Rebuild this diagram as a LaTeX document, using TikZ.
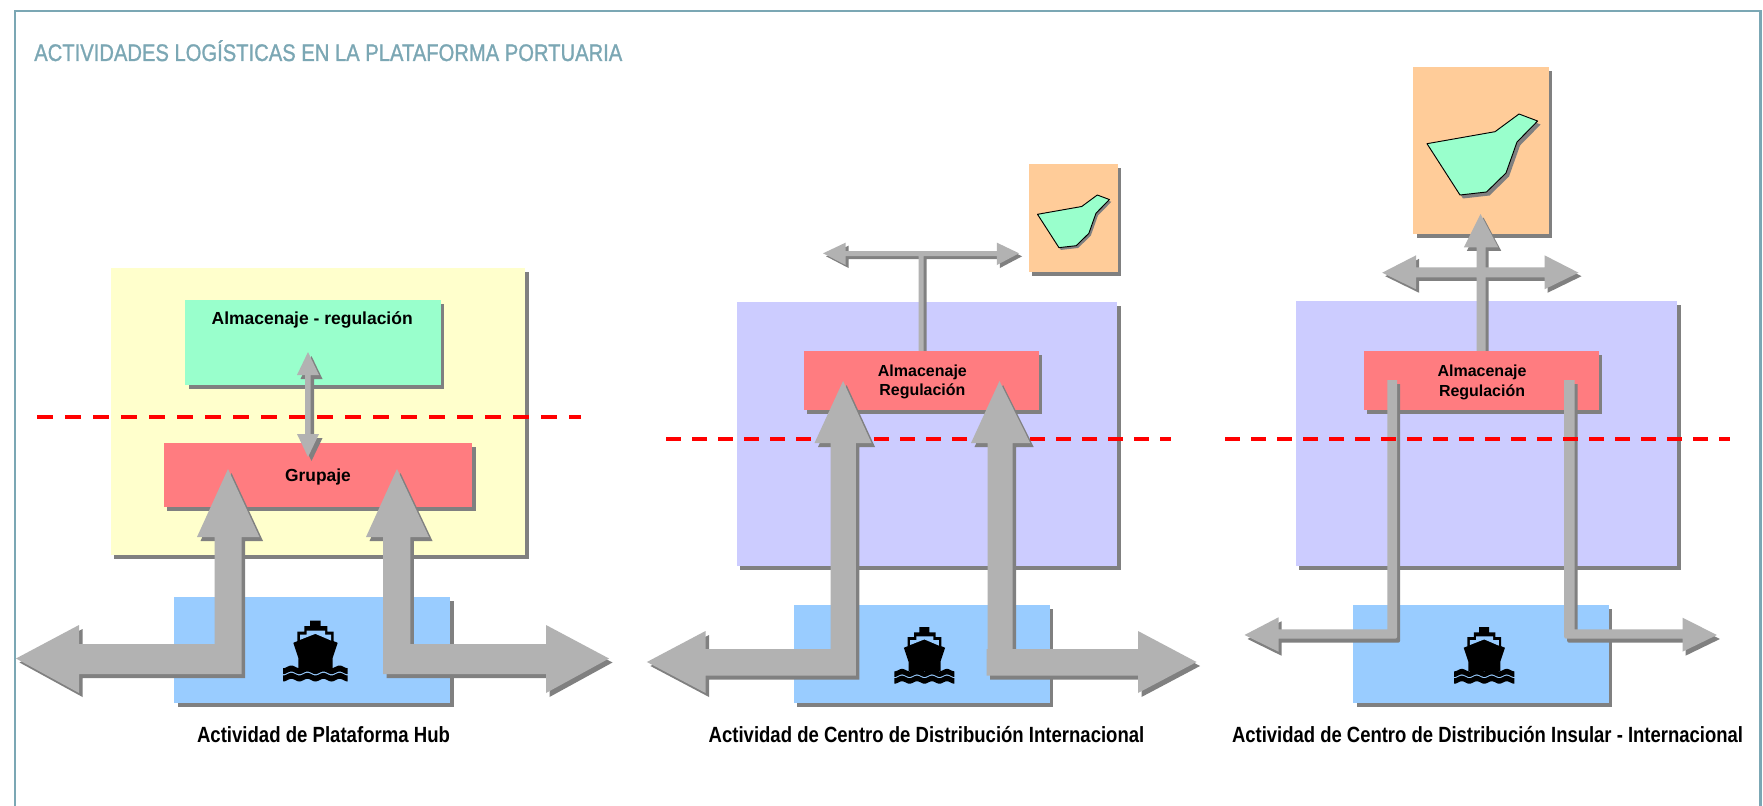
\documentclass[tikz,border=0pt]{standalone}
\usepackage{graphicx}
\usepackage{fontspec}
\setmainfont{Liberation Sans}
\newfontfamily\titlefont[FakeBold=1.2]{Liberation Sans}
\definecolor{framec}{HTML}{7BA7B4}
\definecolor{shadowc}{HTML}{808080}
\definecolor{arrowc}{HTML}{B2B2B2}
\definecolor{yellowc}{HTML}{FFFFCC}
\definecolor{greenc}{HTML}{99FFCC}
\definecolor{redc}{HTML}{FF7C80}
\definecolor{bluec}{HTML}{99CCFF}
\definecolor{purplec}{HTML}{CCCCFF}
\definecolor{orangec}{HTML}{FFCC99}
\newdimen\pxu \pxu=0.75pt
\newcommand{\fitw}[2]{\resizebox{#1\pxu}{\height}{#2}}
% name, x1, y1, x2, y2, colour
\newcommand{\panelbox}[6]{%
  \fill[shadowc] (#2+3.5,#3+4) rectangle (#4+3.5,#5+4);
  \pgfmathsetlengthmacro{\bw}{(#4-#2)*0.75}%
  \pgfmathsetlengthmacro{\bh}{(#5-#3)*0.75}%
  \node[boxst,fill=#6,minimum width=\bw,minimum height=\bh] (#1) at (#2,#3) {};
}
% path, shadow offset
\newcommand{\blockarrow}[2][3.5,4]{%
  \fill[shadowc,shift={(#1)}] #2;
  \fill[arrowc] #2;
}
% x, y, scale
\newcommand{\shipicon}[3]{%
  \begin{scope}[shift={(#1,#2)},scale=#3/3,shift={(-39,-30)}]
    \fill[black] (120,30)--(152,30)--(152,47)--(172,47)--(172,63)--(191,63)--(191,92)--(203,97)--(188,142)--(188,172)--(85,172)--(85,142)--(70,97)--(82,92)--(82,63)--(103,63)--(103,47)--(120,47)--cycle;
    \fill[bluec] (90,88)--(90,72)--(110,72)--(110,60)--(165,60)--(165,72)--(183,72)--(183,90)--(136,70)--cycle;
    \foreach \c in {178,200}{
      \fill[black] plot[domain=39:233,samples=49] (\x,{\c-4*cos((\x-64)*7.46)-9}) -- plot[domain=233:39,samples=49] (\x,{\c-4*cos((\x-64)*7.46)+9}) -- cycle;
    }
  \end{scope}
}
% x, y, scale
\newcommand{\islandicon}[3]{%
  \begin{scope}[shift={(#1,#2)},scale=#3]
    \def\ipath{(0,29.7)--(68,17.7)--(92,0)--(110.6,7)--(90,28)--(79,59)--(59.5,78)--(33,81)--cycle}
    \fill[shadowc,shift={(3,3.5)}] \ipath;
    \filldraw[fill=greenc,draw=black,line width=0.7pt,line join=round] \ipath;
  \end{scope}
}
\tikzset{
  boxst/.style={anchor=north west,inner sep=0pt,outer sep=0pt,draw=none},
  cutline/.style={red,line width=3pt},
  captionst/.style={anchor=base,inner sep=0pt,font=\fontsize{16.5pt}{18pt}\selectfont\bfseries},
  boxlarge/.style={anchor=base,inner sep=0pt,font=\fontsize{13.1pt}{15pt}\selectfont\bfseries},
  boxsmall/.style={anchor=base,inner sep=0pt,font=\fontsize{12pt}{14pt}\selectfont\bfseries},
  titlest/.style={anchor=base west,inner sep=0pt,text=framec,font=\fontsize{18pt}{20pt}\titlefont}
}
\begin{document}
\begin{tikzpicture}[x=0.75pt,y=-0.75pt]
\useasboundingbox (0,0) rectangle (1763,806);
\fill[white] (0,0) rectangle (1763,806);
\coordinate (fa) at (15,806);
\coordinate (fb) at (15,11);
\coordinate (fc) at (1760.5,11);
\coordinate (fd) at (1760.5,806);
\draw[framec,line width=1.6pt] (fa) -- (fb) -- (fc) -- (fd);
\node[titlest] (title) at (34,61) {\fitw{588}{ACTIVIDADES LOGÍSTICAS EN LA PLATAFORMA PORTUARIA}};

% --- panel 1
\panelbox{hubzone}{110.5}{268}{525}{555}{yellowc}
\panelbox{hubstore}{185}{300}{440.5}{385}{greenc}
\coordinate (d1a) at (37,417);
\coordinate (d1b) at (580.5,417);
\draw[cutline,dash pattern=on 12.3pt off 8.7pt] (d1a) -- (d1b);
\panelbox{hubgroup}{163.5}{443}{472}{507}{redc}
\blockarrow{(308,352)--(319,375)--(310.5,375)--(310.5,434)--(319,434)--(308,457)--(297,434)--(305,434)--(305,375)--(297,375)--cycle}
\panelbox{hubport}{174.4}{597}{450}{703}{bluec}
\shipicon{283}{620.5}{1}
\blockarrow{(228,469)--(259.5,537)--(241.5,537)--(241.5,674)--(79,674)--(79,693)--(16,658.5)--(79,625)--(79,644)--(214.5,644)--(214.5,537)--(197,537)--cycle}
\blockarrow{(397,469)--(429,537)--(410.4,537)--(410.4,644)--(546,644)--(546,625)--(609,658.5)--(546,693)--(546,674)--(383,674)--(383,537)--(366,537)--cycle}
\node[boxlarge] (hubstoretext) at (312.2,324) {\fitw{201}{Almacenaje - regulación}};
\node[boxlarge] (hubgrouptext) at (318,481.7) {\fitw{65.6}{Grupaje}};
\node[captionst] (cap1) at (323.5,742) {\fitw{253}{Actividad de Plataforma Hub}};

% --- panel 2
\begin{scope}[shift={(-1.5,0)}]
\panelbox{intisland}{1030}{164}{1119}{272}{orangec}
\islandicon{1039}{195}{0.65}
\panelbox{intzone}{738}{302}{1118.5}{565.7}{purplec}
\blockarrow[3,3]{(824.6,253.3)--(847,242.7)--(847,251)--(998.4,251)--(998.4,242.7)--(1020.6,253.3)--(998.4,265)--(998.4,256)--(925,256)--(925,352)--(920,352)--(920,256)--(847,256)--(847,265)--cycle}
\panelbox{intstore}{805}{351}{1040}{410}{redc}
\coordinate (d2a) at (667.5,439);
\coordinate (d2b) at (1172.7,439);
\draw[cutline,dash pattern=on 11.5pt off 8pt] (d2a) -- (d2b);
\panelbox{intport}{795}{605}{1051}{702.7}{bluec}
\shipicon{895.8}{627}{0.93}
\blockarrow{(844.6,381)--(873,443)--(857.4,443)--(857.4,675.7)--(707,675.7)--(707,693)--(648.4,662)--(707,631)--(707,649)--(832,649)--(832,443)--(816,443)--cycle}
\blockarrow{(1001,381)--(1031.7,443)--(1014,443)--(1014,649)--(1139.5,649)--(1139.5,631)--(1198,662)--(1139.5,693)--(1139.5,675.7)--(988,675.7)--(988,649)--(989,649)--(989,443)--(972.5,443)--cycle}
\end{scope}
\node[boxsmall] (intstoretext1) at (922.4,376.5) {\fitw{89}{Almacenaje}};
\node[boxsmall] (intstoretext2) at (922.4,395.7) {\fitw{86}{Regulación}};
\node[captionst] (cap2) at (926.5,742) {\fitw{435.6}{Actividad de Centro de Distribución Internacional}};

% --- panel 3
\begin{scope}[shift={(-1.5,0)}]
\panelbox{insisland}{1414.5}{67}{1550}{233.7}{orangec}
\islandicon{1428.5}{114}{1}
\panelbox{inszone}{1297}{301}{1678.5}{565.7}{purplec}
\blockarrow[3,3.5]{(1482,214)--(1499.7,247.3)--(1487,247.3)--(1487,267.3)--(1546,267.3)--(1546,255.3)--(1580,272.7)--(1546,289.3)--(1546,277.3)--(1487,277.3)--(1487,352)--(1478,352)--(1478,277.3)--(1417.6,277.3)--(1417.6,289.3)--(1383.7,272.7)--(1417.6,255.3)--(1417.6,267.3)--(1478,267.3)--(1478,247.3)--(1465.4,247.3)--cycle}
\panelbox{insstore}{1365}{351}{1600}{410}{redc}
\panelbox{insport}{1354.5}{605}{1610}{702.7}{bluec}
\shipicon{1455.6}{627}{0.93}
\blockarrow[3,4]{(1388.8,380)--(1398.6,380)--(1398.6,634) .. controls (1398.6,638.7) .. (1394,638.7)--(1280,638.7)--(1280,651.7)--(1246,635)--(1280,617.3)--(1280,629.3)--(1388.8,629.3)--cycle}
\blockarrow[3,4]{(1565.6,380)--(1576,380)--(1576,629.3)--(1684,629.3)--(1684,617.7)--(1718.4,635)--(1684,651.7)--(1684,638.7)--(1570,638.7) .. controls (1565.6,638.7) .. (1565.6,634)--cycle}
\coordinate (d3a) at (1226.5,439);
\coordinate (d3b) at (1731.7,439);
\draw[cutline,dash pattern=on 11.3pt off 8.2pt] (d3a) -- (d3b);
\end{scope}
\node[boxsmall] (insstoretext1) at (1482,376) {\fitw{89}{Almacenaje}};
\node[boxsmall] (insstoretext2) at (1482,396) {\fitw{86}{Regulación}};
\node[captionst] (cap3) at (1487.5,742) {\fitw{511}{Actividad de Centro de Distribución Insular - Internacional}};
\end{tikzpicture}
\end{document}
